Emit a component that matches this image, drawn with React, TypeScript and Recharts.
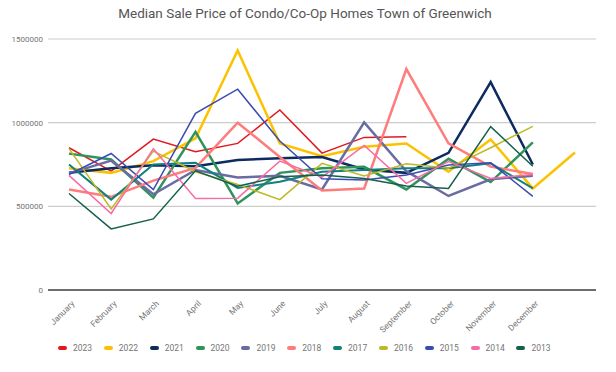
import React from 'react';
import { LineChart, Line, XAxis, YAxis, CartesianGrid } from 'recharts';

// categories (13th slot is unlabeled, only 2022 reaches it)
const months = ['January', 'February', 'March', 'April', 'May', 'June', 'July', 'August', 'September', 'October', 'November', 'December', ''];

const y2023 = [850000, 710000, 902000, 826000, 876000, 1076000, 818000, 912000, 916000, null, null, null, null];
const y2022 = [727000, 700000, 770000, 906000, 1431000, 876000, 800000, 856000, 876000, 707000, 900000, 607000, 822000];
const y2021 = [700000, 727000, 745000, 740000, 777000, 787000, 795000, 720000, 700000, 820000, 1242000, 750000, null];
const y2020 = [815000, 780000, 552000, 945000, 517000, 700000, 727000, 736000, 601000, 784000, 645000, 882000, null];
const y2019 = [697000, 773000, 572000, 717000, 673000, 682000, 601000, 1002000, 710000, 562000, 662000, 683000, null];
const y2018 = [600000, 557000, 654000, 730000, 1000000, 795000, 595000, 607000, 1320000, 876000, 737000, 693000, null];
const y2017 = [750000, 540000, 750000, 760000, 610000, 647000, 707000, 717000, 727000, 727000, 757000, 607000, null];
const y2016 = [845000, 485000, 830000, 707000, 630000, 540000, 757000, 681000, 755000, 727000, 850000, 978000, null];
const y2015 = [690000, 816000, 600000, 1056000, 1200000, 890000, 665000, 657000, 687000, 747000, 760000, 559000, null];
const y2014 = [685000, 457000, 844000, 547000, 549000, 770000, 675000, 864000, 637000, 767000, 667000, 690000, null];
const y2013 = [577000, 365000, 425000, 712000, 620000, 677000, 687000, 667000, 621000, 607000, 976000, 740000, null];

const yTicks = [0, 500000, 1000000, 1500000];

const series = [
  { key: '2023', values: y2023, color: '#e0191f', width: 1.5 },
  { key: '2022', values: y2022, color: '#fcc200', width: 2.5 },
  { key: '2021', values: y2021, color: '#0c2b5e', width: 2.5 },
  { key: '2020', values: y2020, color: '#2f9459', width: 2.5 },
  { key: '2019', values: y2019, color: '#6b6ba3', width: 2.5 },
  { key: '2018', values: y2018, color: '#ff7c7c', width: 2.5 },
  { key: '2017', values: y2017, color: '#12807f', width: 2 },
  { key: '2016', values: y2016, color: '#bfb925', width: 1.5 },
  { key: '2015', values: y2015, color: '#3b4cb0', width: 1.5 },
  { key: '2014', values: y2014, color: '#f76ca6', width: 1.5 },
  { key: '2013', values: y2013, color: '#13604c', width: 1.5 },
];

const data = months.map((m, i) => {
  const row: any = { month: m };
  series.forEach(s => { row[s.key] = s.values[i]; });
  return row;
});

const FONT = 'Roboto, "Noto Sans", sans-serif';

const MonthTick = (props: any) => {
  const { x, y, payload } = props;
  return (
    <g transform={`translate(${x + 4},${y + 4})`}>
      <text x={0} y={0} dy={3} textAnchor="end" transform="rotate(-45)" fill="#757575" fontSize={8.5} fontFamily={FONT}>
        {payload.value}
      </text>
    </g>
  );
};

export default function App() {
  return (
    <div style={{ position: 'absolute', left: 0, top: 0, width: 616, height: 372, background: '#fff', fontFamily: FONT }}>
      <div style={{ position: 'absolute', top: 5, left: 0, width: 610, textAlign: 'center', fontSize: 13.5, color: '#555' }}>
        Median Sale Price of Condo/Co-Op Homes Town of Greenwich
      </div>
      <LineChart width={616} height={372} data={data} margin={{ top: 39, right: 20, left: 0, bottom: 32 }}>
        <CartesianGrid vertical={false} stroke="#cccccc" strokeWidth={1.2} />
        <XAxis
          dataKey="month"
          interval={0}
          padding={{ left: 21, right: 21 }}
          tick={<MonthTick />}
          tickLine={false}
          axisLine={{ stroke: '#444', strokeWidth: 1.5 }}
          height={50}
        />
        <YAxis
          domain={[0, 1500000]}
          ticks={yTicks}
          width={48}
          tickLine={false}
          axisLine={false}
          tickSize={0}
          tickMargin={5}
          tick={{ fontSize: 8, fill: '#757575', fontFamily: FONT }}
          tickFormatter={(v: number) => String(v)}
        />
        {series.map(s => (
          <Line
            key={s.key}
            type="linear"
            dataKey={s.key}
            stroke={s.color}
            strokeWidth={s.width}
            dot={false}
            activeDot={false}
            isAnimationActive={false}
          />
        ))}
      </LineChart>
      <div style={{ position: 'absolute', top: 343, left: 58, display: 'flex', fontSize: 8.5, color: '#757575' }}>
        {series.map(s => (
          <div key={s.key} style={{ width: 45.85, display: 'flex', alignItems: 'center' }}>
            <span style={{ display: 'inline-block', width: 9, height: 4, borderRadius: 2, background: s.color, marginRight: 6 }} />
            <span>{s.key}</span>
          </div>
        ))}
      </div>
    </div>
  );
}
